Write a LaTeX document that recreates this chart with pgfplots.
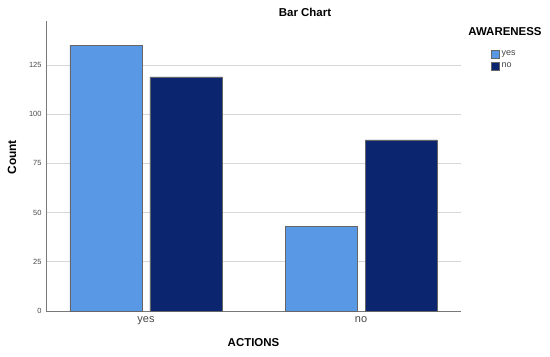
\documentclass[border=0pt]{standalone}
\usepackage{pgfplots}
\pgfplotsset{compat=1.18}
\usepackage{fontspec}
\setmainfont{Liberation Sans}
\definecolor{lightb}{RGB}{88,152,228}
\definecolor{darkb}{RGB}{11,38,110}
\definecolor{gridc}{RGB}{215,215,215}
\definecolor{axc}{RGB}{120,120,120}
\definecolor{tickc}{RGB}{70,70,70}
\begin{document}
\begin{tikzpicture}[x=1bp,y=1bp]
\useasboundingbox (0,0) rectangle (550,356);
\begin{axis}[
  at={(46bp,45bp)}, anchor=south west,
  scale only axis, width=415bp, height=290bp,
  xmin=-0.465, xmax=1.465, ymin=0, ymax=147.4,
  ybar=8bp, bar width=72bp,
  xtick={0,1}, xticklabels={yes,no},
  ytick={0,25,50,75,100,125},
  /pgf/number format/assume math mode=true,
  axis x line*=bottom, axis y line*=left,
  axis line style={draw=axc, line width=0.8bp, -},
  major tick length=0pt,
  ymajorgrids, grid style={draw=gridc, line width=0.8bp},
  xticklabel style={font=\fontsize{11}{13}\selectfont, text=tickc, yshift=-2bp},
  yticklabel style={font=\fontsize{7.5}{9}\selectfont, text=tickc, xshift=-1bp},
  xlabel={ACTIONS}, ylabel={Count},
  xlabel style={font=\fontsize{11.5}{13}\bfseries, at={(axis description cs:0.5,-0.11)}, anchor=center},
  ylabel style={font=\fontsize{12}{14}\bfseries, at={(axis description cs:-0.082,0.53)}, anchor=center},
  legend style={at={(1.072,0.905)}, anchor=north west, draw=none, fill=none,
     font=\fontsize{9}{10}\selectfont, text=tickc, row sep=2bp, inner sep=0pt,
     cells={anchor=west}},
  legend image code/.code={\draw[#1] (0bp,-4bp) rectangle (8bp,4bp);},
]
\addplot[fill=lightb, draw=black!60, line width=0.6bp] coordinates {(0,135) (1,43)};
\addplot[fill=darkb, draw=black!60, line width=0.6bp] coordinates {(0,119) (1,87)};
\legend{yes,no}
\end{axis}
\node[font=\fontsize{11.5}{13}\bfseries] at (305,344) {Bar Chart};
\node[font=\fontsize{11.5}{13}\bfseries] at (505,324) {AWARENESS};
\end{tikzpicture}
\end{document}
